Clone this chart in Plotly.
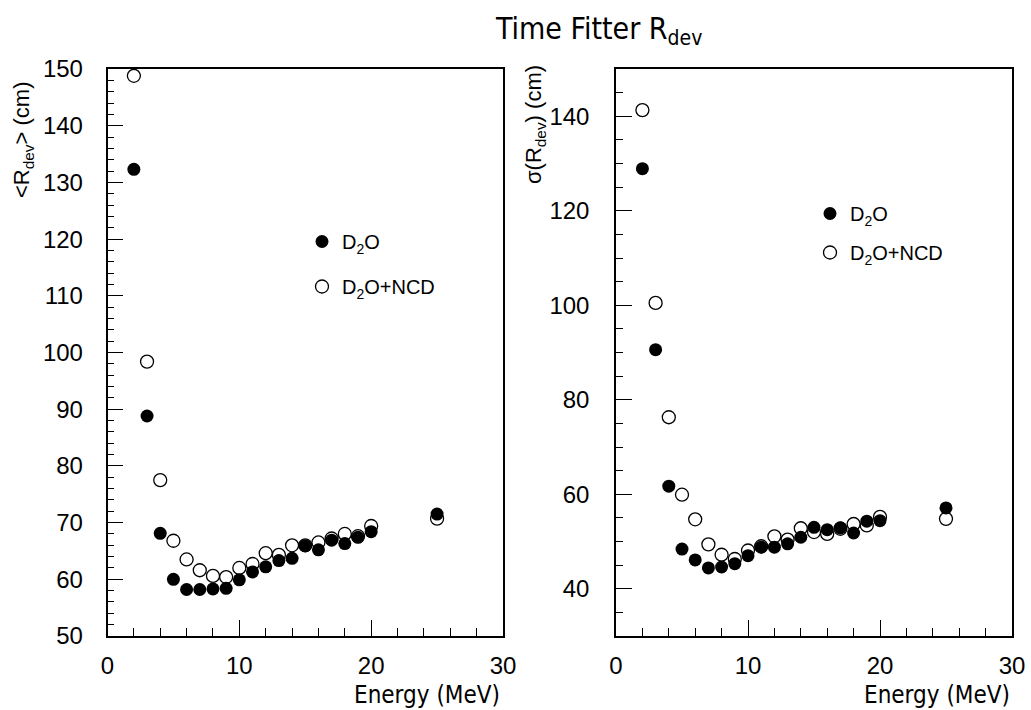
import plotly.graph_objects as go

# ---- data ----
energy = [2, 3, 4, 5, 6, 7, 8, 9, 10, 11, 12, 13, 14, 15, 16, 17, 18, 19, 20, 25]

mean_d2o = [132.3, 88.8, 68.1, 60.0, 58.2, 58.2, 58.3, 58.4, 59.9, 61.3, 62.2, 63.3, 63.7,
            65.9, 65.2, 66.9, 66.3, 67.4, 68.4, 71.5]
mean_ncd = [148.8, 98.4, 77.5, 66.8, 63.5, 61.6, 60.6, 60.4, 62.0, 62.7, 64.6, 64.3, 66.0,
            66.0, 66.5, 67.2, 68.0, 67.6, 69.4, 70.7]

sigma_d2o = [128.9, 90.6, 61.7, 48.4, 46.1, 44.4, 44.6, 45.3, 47.0, 48.8, 48.8, 49.5, 50.9,
             53.0, 52.5, 52.9, 51.8, 54.3, 54.4, 57.1]
sigma_ncd = [141.3, 100.5, 76.3, 59.9, 54.7, 49.4, 47.2, 46.3, 48.1, 49.0, 51.1, 50.4, 52.8,
             52.0, 51.6, 52.7, 53.7, 53.4, 55.2, 54.8]

FONT = "Liberation Sans"
NARROW = "Liberation Sans Narrow, DejaVu Sans Condensed, Liberation Sans, sans-serif"

fig = go.Figure()

fig.add_trace(go.Scatter(x=energy, y=mean_d2o, mode="markers", name="D<sub>2</sub>O",
                         marker=dict(symbol="circle", size=13, color="black"),
                         xaxis="x", yaxis="y", legend="legend", legendgroup="a"))
fig.add_trace(go.Scatter(x=energy, y=mean_ncd, mode="markers", name="D<sub>2</sub>O+NCD",
                         marker=dict(symbol="circle-open", size=13, color="black",
                                     line=dict(width=1.3, color="black")),
                         xaxis="x", yaxis="y", legend="legend", legendgroup="b"))
fig.add_trace(go.Scatter(x=energy, y=sigma_d2o, mode="markers", name="D<sub>2</sub>O",
                         marker=dict(symbol="circle", size=13, color="black"),
                         xaxis="x2", yaxis="y2", legend="legend2", legendgroup="c"))
fig.add_trace(go.Scatter(x=energy, y=sigma_ncd, mode="markers", name="D<sub>2</sub>O+NCD",
                         marker=dict(symbol="circle-open", size=13, color="black",
                                     line=dict(width=1.3, color="black")),
                         xaxis="x2", yaxis="y2", legend="legend2", legendgroup="d"))

W, H = 1031, 710
def px_x(p):
    return p / W
def px_y(p):
    return (H - p) / H

axis_common = dict(showgrid=False, zeroline=False, showline=True, linecolor="black",
                   linewidth=1.5, mirror=True, ticks="inside", tickcolor="black",
                   tickwidth=1.3, tickfont=dict(family=FONT, size=24, color="black"))

xa = dict(axis_common, range=[0, 30], dtick=10, tick0=0, ticklen=16, ticklabelstandoff=7,
          minor=dict(dtick=2, ticks="inside", ticklen=8, tickcolor="black", tickwidth=1.2))
fig.update_layout(
    xaxis=dict(xa, domain=[px_x(107.5), px_x(503)], anchor="y"),
    yaxis=dict(axis_common, domain=[px_y(636), px_y(69)], anchor="x", range=[50, 150],
               dtick=10, tick0=0, ticklen=16, ticklabelstandoff=18,
               minor=dict(dtick=2, ticks="inside", ticklen=7, tickcolor="black", tickwidth=1.2)),
    xaxis2=dict(xa, domain=[px_x(616), px_x(1012)], anchor="y2"),
    yaxis2=dict(axis_common, domain=[px_y(636), px_y(69)], anchor="x2", range=[30, 150],
                dtick=20, tick0=0, ticklen=16, ticklabelstandoff=20,
                minor=dict(dtick=5, ticks="inside", ticklen=7, tickcolor="black", tickwidth=1.2)),
)

fig.update_layout(
    width=W, height=H,
    margin=dict(l=0, r=0, t=0, b=0, pad=0, autoexpand=False),
    paper_bgcolor="white", plot_bgcolor="white",
    showlegend=True,
    legend=dict(x=px_x(302), y=px_y(222), xanchor="left", yanchor="top",
                bgcolor="rgba(0,0,0,0)", tracegroupgap=16,
                font=dict(family=FONT, size=20, color="black")),
    legend2=dict(x=px_x(810), y=px_y(194), xanchor="left", yanchor="top",
                 bgcolor="rgba(0,0,0,0)", tracegroupgap=10,
                 font=dict(family=FONT, size=20, color="black")),
    annotations=[
        dict(text="Time Fitter R<sub>dev</sub>", xref="paper", yref="paper",
             x=px_x(598), y=px_y(30), xanchor="center", yanchor="middle", showarrow=False,
             font=dict(family=NARROW, size=30, color="black")),
        dict(text="&lt;R<sub>dev</sub>&gt; (cm)", xref="paper", yref="paper",
             x=px_x(23), y=px_y(140), xanchor="center", yanchor="middle", textangle=-90,
             showarrow=False, font=dict(family=FONT, size=22, color="black")),
        dict(text="σ(R<sub>dev</sub>) (cm)", xref="paper", yref="paper",
             x=px_x(535), y=px_y(125), xanchor="center", yanchor="middle", textangle=-90,
             showarrow=False, font=dict(family=FONT, size=22, color="black")),
        dict(text="Energy (MeV)", xref="paper", yref="paper",
             x=px_x(502), y=px_y(695), xanchor="right", yanchor="middle",
             showarrow=False, font=dict(family=NARROW, size=24, color="black")),
        dict(text="Energy (MeV)", xref="paper", yref="paper",
             x=px_x(1012), y=px_y(695), xanchor="right", yanchor="middle",
             showarrow=False, font=dict(family=NARROW, size=24, color="black")),
    ],
)

fig.write_html("out.html")
